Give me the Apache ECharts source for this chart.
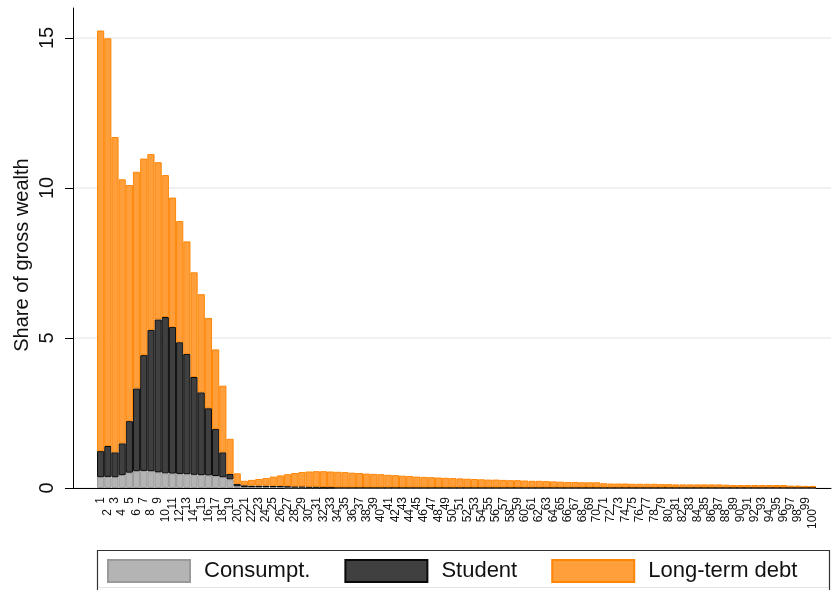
<!DOCTYPE html>
<html>
<head>
<meta charset="utf-8">
<script src="https://cdn.jsdelivr.net/npm/echarts@6/dist/echarts.min.js"></script>
<style>
  html, body { margin: 0; padding: 0; background: #fff; }
  #debtShare { width: 833px; height: 590px; }
</style>
</head>
<body>
<div id="debtShare"></div>
<script>
// percentile groups 1..100
var percentiles = []
for (var p = 1; p <= 100; p++) percentiles.push(String(p))

var yTicks = [0, 5, 10, 15]

// Consumpt. (bottom layer)
var consumpt = [
  0.36, 0.37, 0.36, 0.43, 0.51, 0.56, 0.57, 0.56, 0.52, 0.49,
  0.48, 0.47, 0.46, 0.44, 0.43, 0.42, 0.40, 0.36, 0.29, 0.06,
  0.03, 0.03, 0.03, 0.03, 0.03, 0.03, 0.02, 0.02, 0.02, 0.02,
  0.02, 0.02, 0.02, 0.01, 0.01, 0.01, 0.01, 0.01, 0.01, 0.01,
  0.01, 0.01, 0.01, 0.01, 0.01, 0.01, 0.01, 0.01, 0.01, 0.01,
  0.01, 0.01, 0.01, 0.01, 0.01, 0.01, 0.01, 0.01, 0.01, 0.01,
  0.01, 0.01, 0.01, 0.01, 0.01, 0.01, 0.01, 0.01, 0.01, 0.01,
  0.01, 0.01, 0.01, 0.01, 0.01, 0.01, 0.01, 0.01, 0.01, 0.01,
  0.01, 0.01, 0.01, 0.01, 0.01, 0.01, 0.01, 0.01, 0.01, 0.01,
  0.01, 0.01, 0.01, 0.01, 0.01, 0.01, 0.01, 0.01, 0.01, 0.01
]

// Student (middle layer)
var student = [
  0.87, 1.03, 0.83, 1.06, 1.72, 2.76, 3.86, 4.71, 5.10, 5.21,
  4.89, 4.39, 4.01, 3.26, 2.76, 2.24, 1.57, 0.83, 0.18, 0.08,
  0.06, 0.05, 0.05, 0.05, 0.04, 0.04, 0.04, 0.03, 0.03, 0.02,
  0.02, 0.01, 0.01, 0.01, 0.01, 0.01, 0.01, 0.01, 0.01, 0.01,
  0.01, 0.01, 0.01, 0.01, 0.01, 0.01, 0.01, 0.01, 0.01, 0.01,
  0.01, 0.01, 0.01, 0.01, 0.01, 0.01, 0.01, 0.01, 0.01, 0.01,
  0.01, 0.01, 0.01, 0.01, 0.01, 0.01, 0.01, 0.01, 0.01, 0.01,
  0.01, 0.01, 0.01, 0.01, 0.01, 0.01, 0.01, 0.01, 0.01, 0.01,
  0.01, 0.01, 0.01, 0.01, 0.01, 0.01, 0.01, 0.01, 0.01, 0.01,
  0.01, 0.01, 0.01, 0.01, 0.01, 0.01, 0.01, 0.01, 0.01, 0.01
]

// Long-term debt (top layer)
var longTerm = [
  14.02, 13.59, 10.51, 8.80, 7.87, 7.22, 6.55, 5.86, 5.24, 4.73,
  4.31, 4.04, 3.75, 3.49, 3.27, 3.01, 2.65, 2.22, 1.17, 0.35,
  0.15, 0.19, 0.22, 0.25, 0.31, 0.35, 0.40, 0.45, 0.48, 0.51,
  0.52, 0.53, 0.52, 0.52, 0.51, 0.49, 0.48, 0.46, 0.45, 0.44,
  0.42, 0.41, 0.39, 0.38, 0.36, 0.35, 0.34, 0.33, 0.32, 0.31,
  0.30, 0.29, 0.28, 0.27, 0.26, 0.26, 0.25, 0.24, 0.24, 0.23,
  0.22, 0.22, 0.21, 0.20, 0.19, 0.18, 0.18, 0.17, 0.17, 0.17,
  0.14, 0.13, 0.13, 0.13, 0.12, 0.12, 0.12, 0.12, 0.11, 0.11,
  0.10, 0.10, 0.10, 0.10, 0.10, 0.10, 0.10, 0.09, 0.08, 0.08,
  0.08, 0.08, 0.08, 0.08, 0.08, 0.08, 0.06, 0.06, 0.05, 0.05
]

var font = 'Liberation Sans, Arial, Helvetica, sans-serif'

var chart = echarts.init(document.getElementById('debtShare'))

var option = {
  animation: false,
  textStyle: { fontFamily: font },
  grid: [
    // axis frame (y axis line reaches above 15)
    { left: 73, right: 2, top: 8, bottom: 102 },
    // ticks, labels, grid lines
    { left: 73, right: 2, top: 8, bottom: 102 },
    // bars
    { left: 97, right: 17, top: 8, bottom: 102 }
  ],
  xAxis: [
    {
      gridIndex: 0, type: 'value', min: 0, max: 1,
      axisLine: { show: true, lineStyle: { color: '#000', width: 1 } },
      axisTick: { show: false }, axisLabel: { show: false }, splitLine: { show: false }
    },
    {
      gridIndex: 1, type: 'value', min: 0, max: 1, show: false
    },
    {
      gridIndex: 2, type: 'category', data: percentiles, position: 'bottom',
      axisLine: { show: false }, axisTick: { show: false },
      axisLabel: {
        rotate: 90, margin: 9, fontSize: 12, color: '#111', fontFamily: font,
        interval: function (i) { return i % 2 === 0 }
      }
    },
    {
      gridIndex: 2, type: 'category', data: percentiles, position: 'bottom',
      axisLine: { show: false }, axisTick: { show: false },
      axisLabel: {
        rotate: 90, margin: 21, fontSize: 12, color: '#111', fontFamily: font,
        interval: function (i) { return i % 2 === 1 }
      }
    }
  ],
  yAxis: [
    {
      gridIndex: 0, type: 'value', min: 0, max: 16,
      axisLine: { show: true, lineStyle: { color: '#000', width: 1 } },
      axisTick: { show: false }, axisLabel: { show: false }, splitLine: { show: false }
    },
    {
      gridIndex: 1, type: 'value', min: 0, max: 16, interval: 5,
      name: 'Share of gross wealth',
      nameLocation: 'middle',
      nameGap: 41,
      nameMoveOverlap: false,
      nameTextStyle: { fontSize: 20, color: '#111', fontFamily: font, padding: [0, 14, 0, 0] },
      axisLine: { show: false },
      axisTick: { show: true, length: 8, customValues: yTicks, lineStyle: { color: '#000' } },
      axisLabel: { rotate: 90, margin: 16, fontSize: 20, color: '#111', fontFamily: font, customValues: yTicks },
      splitLine: { show: true, lineStyle: { color: '#e8eef2', width: 1.5 } }
    },
    {
      gridIndex: 2, type: 'value', min: 0, max: 16, show: false
    }
  ],
  legend: {
    left: 102,
    top: 554,
    itemWidth: 82,
    itemHeight: 22,
    itemGap: 34,
    icon: 'rect',
    textStyle: { fontSize: 22, color: '#111', fontFamily: font, padding: [0, 0, 0, 9] },
    data: ['Consumpt.', 'Student', 'Long-term debt']
  },
  graphic: [
    {
      type: 'polyline',
      shape: { points: [[97.5, 590], [97.5, 550.5], [829.5, 550.5], [829.5, 590]] },
      style: { fill: null, stroke: '#333', lineWidth: 1.2 }
    },
    {
      type: 'line',
      shape: { x1: 98, y1: 587.5, x2: 829, y2: 587.5 },
      style: { stroke: '#e4e4e4', lineWidth: 1 }
    }
  ],
  series: [
    {
      name: 'Consumpt.', type: 'bar', stack: 'debt',
      xAxisIndex: 2, yAxisIndex: 2,
      barCategoryGap: '0%',
      itemStyle: { color: '#b4b4b4', borderColor: '#9a9a9a', borderWidth: 1 },
      data: consumpt
    },
    {
      name: 'Student', type: 'bar', stack: 'debt',
      xAxisIndex: 2, yAxisIndex: 2,
      barCategoryGap: '0%',
      itemStyle: { color: '#404040', borderColor: '#0a0a0a', borderWidth: 1 },
      data: student
    },
    {
      name: 'Long-term debt', type: 'bar', stack: 'debt',
      xAxisIndex: 2, yAxisIndex: 2,
      barCategoryGap: '0%',
      itemStyle: { color: '#ff9f3c', borderColor: '#ff8605', borderWidth: 1 },
      data: longTerm
    }
  ]
}

chart.setOption(option)
</script>
</body>
</html>
